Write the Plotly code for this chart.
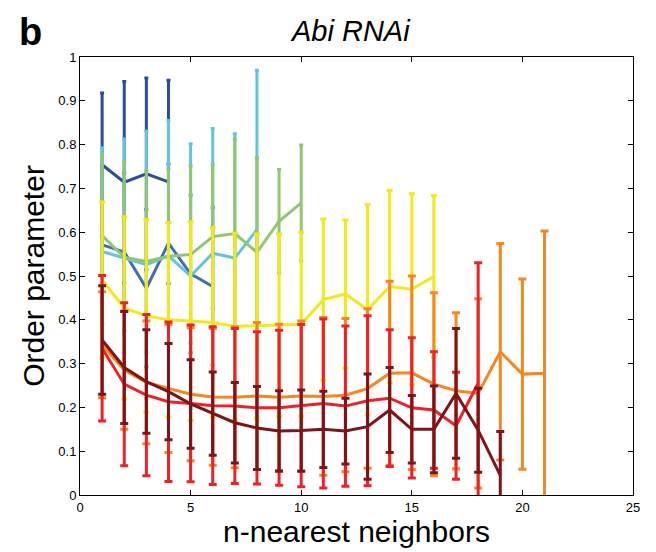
import plotly.graph_objects as go

# ---- data ----
x_db = [1, 2, 3, 4]
y_db = [0.754, 0.714, 0.733, 0.715]
e_db = [0.164, 0.230, 0.219, 0.232]

x_mb = [1, 2, 3, 4, 5, 6]
y_mb = [0.571, 0.555, 0.472, 0.575, 0.505, 0.476]
e_mb = [0.18, 0.18, 0.18, 0.18, 0.18, 0.18]

x_cy = [1, 2, 3, 4, 5, 6, 7, 8]
y_cy = [0.556, 0.541, 0.526, 0.546, 0.500, 0.552, 0.541, 0.606]
e_cy = [0.237, 0.272, 0.305, 0.309, 0.302, 0.285, 0.284, 0.364]

x_gr = [1, 2, 3, 4, 5, 6, 7, 8, 9, 10]
y_gr = [0.592, 0.543, 0.533, 0.545, 0.549, 0.590, 0.597, 0.554, 0.625, 0.667]
e_gr = [0.185, 0.218, 0.208, 0.200, 0.202, 0.164, 0.215, 0.216, 0.118, 0.132]

x_ye = list(range(1, 17))
y_ye = [0.491, 0.427, 0.409, 0.400, 0.397, 0.394, 0.385, 0.386, 0.388, 0.390,
        0.446, 0.459, 0.423, 0.476, 0.470, 0.499]
e_ye = [0.178, 0.208, 0.220, 0.222, 0.227, 0.216, 0.213, 0.210, 0.208, 0.210,
        0.184, 0.169, 0.240, 0.220, 0.218, 0.185]

x_or = list(range(1, 22))
y_or = [0.343, 0.285, 0.257, 0.243, 0.230, 0.224, 0.223, 0.226, 0.223, 0.226,
        0.225, 0.228, 0.243, 0.278, 0.279, 0.253, 0.238, 0.232, 0.327, 0.276, 0.278]
e_or = [0.121, 0.135, 0.140, 0.146, 0.152, 0.156, 0.161, 0.168, 0.167, 0.171,
        0.180, 0.175, 0.182, 0.210, 0.221, 0.209, 0.178, 0.216, 0.247, 0.217, 0.325]

x_rd = list(range(1, 19))
y_rd = [0.335, 0.253, 0.228, 0.213, 0.209, 0.204, 0.203, 0.199, 0.199, 0.204,
        0.209, 0.203, 0.215, 0.221, 0.199, 0.194, 0.158, 0.255]
e_rd = [0.166, 0.186, 0.184, 0.182, 0.179, 0.180, 0.177, 0.174, 0.177, 0.185,
        0.193, 0.183, 0.194, 0.156, 0.160, 0.133, 0.122, 0.275]

x_dr = list(range(1, 20))
y_dr = [0.354, 0.291, 0.259, 0.236, 0.208, 0.186, 0.165, 0.153, 0.146, 0.147,
        0.150, 0.146, 0.156, 0.194, 0.150, 0.150, 0.232, 0.148, 0.045]
e_dr = [0.124, 0.128, 0.118, 0.110, 0.101, 0.095, 0.092, 0.095, 0.092, 0.093,
        0.087, 0.075, 0.120, 0.097, 0.077, 0.099, 0.148, 0.096, 0.100]

x_ticks = [0, 5, 10, 15, 20, 25]
y_ticks = [0, 0.1, 0.2, 0.3, 0.4, 0.5, 0.6, 0.7, 0.8, 0.9, 1]
y_tick_text = ["0", "0.1", "0.2", "0.3", "0.4", "0.5", "0.6", "0.7", "0.8", "0.9", "1"]

series = [
    (x_db, y_db, e_db, "#2e4c9e", 2),
    (x_mb, y_mb, e_mb, "#3f6fb8", 2),
    (x_cy, y_cy, e_cy, "#62c5de", 2),
    (x_gr, y_gr, e_gr, "#8fc770", 2),
    (x_ye, y_ye, e_ye, "#f4e819", 3),
    (x_or, y_or, e_or, "#f6861f", 4),
    (x_rd, y_rd, e_rd, "#ec2227", 4),
    (x_dr, y_dr, e_dr, "#7e1417", 4),
]

fig = go.Figure()
for xs, ys, es, col, cw in series:
    fig.add_trace(go.Scatter(
        x=xs, y=ys, mode="lines",
        line=dict(color=col, width=3),
        error_y=dict(type="data", array=es, visible=True,
                     color=col, thickness=3, width=cw),
        showlegend=False,
    ))

FONT = "Liberation Sans, Arial, sans-serif"
axis_common = dict(
    showline=True, linecolor="black", linewidth=1, mirror="ticks",
    ticks="inside", ticklen=5, tickcolor="black", showgrid=False, zeroline=False,
    tickfont=dict(family=FONT, size=13, color="black"),
)

# page body has an 8px offset; margins compensate so the plot box lands
# at the same place as in the reference
OFF = 8
ML, MR, MT, MB = 80 - OFF, 23 + OFF, 57 - OFF, 57 + OFF
W, H = 656, 552

fig.update_layout(
    width=W, height=H,
    margin=dict(l=ML, r=MR, t=MT, b=MB),
    plot_bgcolor="white", paper_bgcolor="white",
    xaxis=dict(range=[0, 25], tickvals=x_ticks,
               title=dict(text="n-nearest neighbors", standoff=2,
                          font=dict(family=FONT, size=30, color="black")),
               **axis_common),
    yaxis=dict(range=[0, 1], tickvals=y_ticks, ticktext=y_tick_text,
               title=dict(text="Order parameter", standoff=4,
                          font=dict(family=FONT, size=30, color="black")),
               **axis_common),
)

plot_w = W - ML - MR
plot_h = H - MT - MB


def px_to_paper(px, py):
    # px, py in screenshot pixels
    return ((px - OFF) - ML) / plot_w, (H - MB - (py - OFF)) / plot_h


ax, ay = px_to_paper(350, 31)
bx, by = px_to_paper(30, OFF + 1)
fig.add_annotation(text="<i>Abi RNAi</i>", x=ax, y=ay, xref="paper", yref="paper",
                   xanchor="center", yanchor="middle", showarrow=False,
                   font=dict(family=FONT, size=29, color="black"))
fig.add_annotation(text="<b>b</b>", x=bx, y=by, xref="paper", yref="paper",
                   xanchor="center", yanchor="top", showarrow=False,
                   font=dict(family=FONT, size=38, color="black"))

fig.write_html("out.html")
